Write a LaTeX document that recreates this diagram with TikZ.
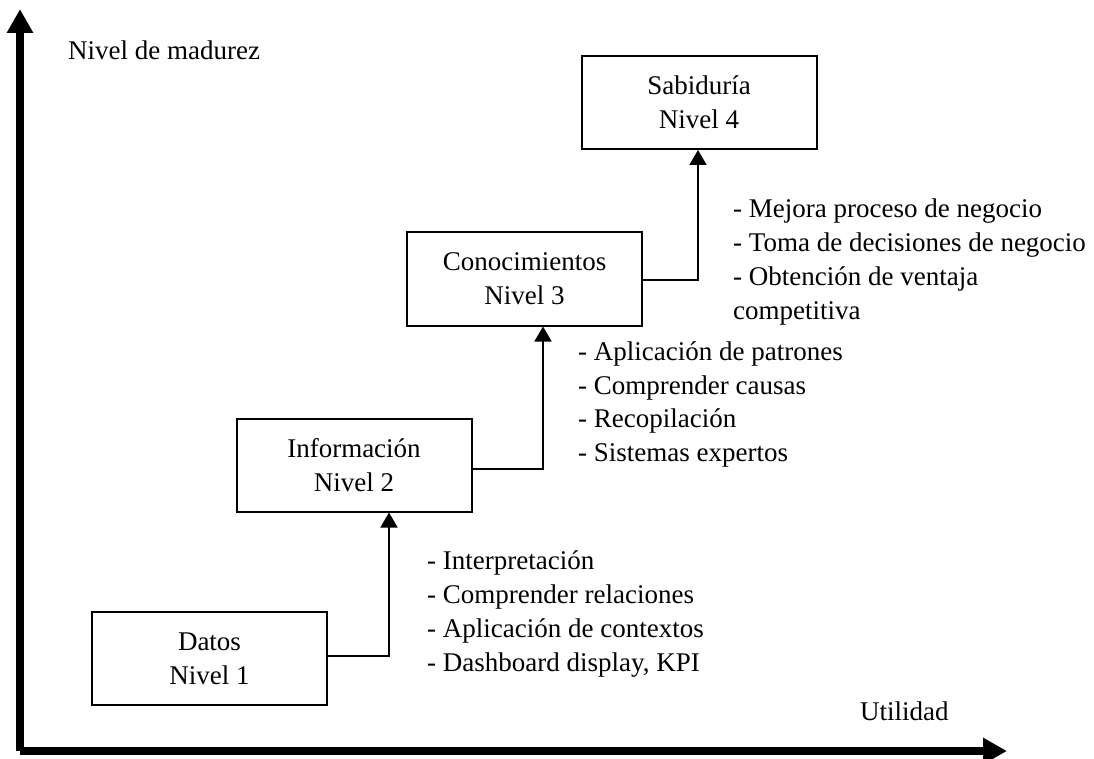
\documentclass[tikz,border=0pt]{standalone}
\usepackage{fontspec}
\setmainfont{Liberation Serif}
\usetikzlibrary{arrows.meta}
\begin{document}
\begin{tikzpicture}[x=1pt,y=-1pt,
  every node/.style={font=\fontsize{27}{33.7}\selectfont},
  level/.style={draw,line width=2pt,minimum width=235pt,minimum height=93pt,
    align=center,inner sep=0pt},
  notes/.style={align=left,anchor=west,inner sep=0pt},
  link/.style={line width=1.7pt,-{Triangle[width=17pt,length=15pt]}},
  axis/.style={line width=7.5pt,-{Triangle[width=25pt,length=24pt]}}]
\useasboundingbox (0,0) rectangle (1094,759);

% axes
\coordinate (o) at (20,751);
\coordinate (ytop) at (20,9);
\coordinate (xend) at (1007,751);
\draw[axis] (o) -- (ytop);
\draw[axis] (o) -- (xend);
\node[anchor=west,inner sep=0pt] (ylab) at (68,50) {Nivel de madurez};
\node[anchor=west,inner sep=0pt] (xlab) at (860,711) {Utilidad};

% levels
\node[level] (d) at (209.5,658.5) {Datos\\Nivel 1};
\node[level] (i) at (354,465) {Información\\Nivel 2};
\node[level] (c) at (524.5,279) {Conocimientos\\Nivel 3};
\node[level] (s) at (699,102.5) {Sabiduría\\Nivel 4};

% steps between levels
\coordinate (k1) at (389,656);
\coordinate (k2) at (543,469);
\coordinate (k3) at (698,280);
\draw[link] (d.east |- k1) -- (k1) -- (k1 |- i.south);
\draw[link] (i.east |- k2) -- (k2) -- (k2 |- c.south);
\draw[link] (c.east |- k3) -- (k3) -- (k3 |- s.south);

% what each step involves
\node[notes] (n1) at (427,614) {- Interpretación\\- Comprender relaciones\\- Aplicación de contextos\\- Dashboard display, KPI};
\node[notes] (n2) at (578,404.5) {- Aplicación de patrones\\- Comprender causas\\- Recopilación\\- Sistemas expertos};
\node[notes] (n3) at (733,262) {- Mejora proceso de negocio\\- Toma de decisiones de negocio\\- Obtención de ventaja\\competitiva};
\end{tikzpicture}
\end{document}
